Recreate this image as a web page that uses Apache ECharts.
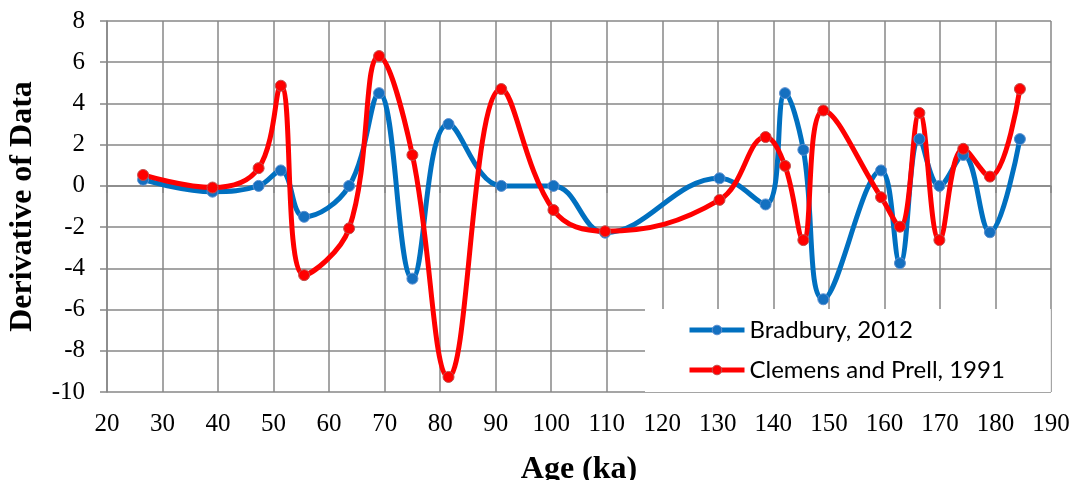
<!DOCTYPE html>
<html>
<head>
<meta charset="utf-8">
<script src="https://cdn.jsdelivr.net/npm/echarts@6/dist/echarts.min.js"></script>
<style>
  html, body { margin: 0; padding: 0; background: #fff; }
  #main { width: 1074px; height: 480px; }
</style>
</head>
<body>
<div id="main"></div>
<script>
// ages (ka) shared by both series
var ages = [26.5, 39.0, 47.3, 51.3, 55.5, 63.6, 69.0, 75.0, 81.5, 91.0, 100.4, 109.7,
  130.3, 138.6, 142.1, 145.4, 149.0, 159.4, 162.8, 166.3, 169.9, 174.2, 179.0, 184.4];
// derivative values
var bradbury = [0.3, -0.28, 0, 0.75, -1.5, 0, 4.5, -4.5, 3.0, 0, 0, -2.27,
  0.37, -0.9, 4.5, 1.75, -5.5, 0.75, -3.75, 2.27, 0, 1.5, -2.25, 2.27];
var clemens = [0.53, -0.08, 0.86, 4.86, -4.33, -2.06, 6.3, 1.5, -9.27, 4.7, -1.17, -2.2,
  -0.68, 2.37, 0.97, -2.63, 3.66, -0.55, -1.98, 3.54, -2.63, 1.8, 0.45, 4.7];
var seriesNames = ['Bradbury, 2012', 'Clemens and Prell, 1991'];

function pairs(xs, ys) {
  var out = [];
  xs.forEach(function (x, i) { out.push([x, ys[i]]); });
  return out;
}

var chart = echarts.init(document.getElementById('main'));
var gridColor = '#878787';

var option = {
  backgroundColor: '#fff',
  animation: false,
  grid: { left: 107, right: 23, top: 21, bottom: 88, outerBoundsMode: 'none', containLabel: false },
  legend: {
    orient: 'vertical',
    left: 645,
    top: 309,
    backgroundColor: '#fff',
    padding: [7, 46, 8, 42],
    itemGap: 12,
    itemWidth: 55,
    itemHeight: 12,
    itemStyle: { borderWidth: 1 },
    lineStyle: { width: 5 },
    textStyle: { fontFamily: 'Lato', fontSize: 24, color: '#000', lineHeight: 28 },
    data: seriesNames
  },
  xAxis: {
    type: 'value',
    min: 20, max: 190, interval: 10,
    name: 'Age (ka)',
    nameLocation: 'middle',
    nameGap: 62,
    nameTextStyle: { fontFamily: 'Liberation Serif', fontWeight: 'bold', fontSize: 32, color: '#000' },
    axisLine: { lineStyle: { color: gridColor, width: 1.5 } },
    axisTick: { show: true, length: 7, lineStyle: { color: gridColor, width: 1.5 } },
    axisLabel: { fontFamily: 'Liberation Serif', fontSize: 25, color: '#000', margin: 20 },
    splitLine: { show: true, lineStyle: { color: gridColor, width: 1.5 } }
  },
  yAxis: {
    type: 'value',
    min: -10, max: 8, interval: 2,
    name: 'Derivative of Data',
    nameLocation: 'middle',
    nameGap: 68,
    nameTextStyle: { fontFamily: 'Liberation Serif', fontWeight: 'bold', fontSize: 32, color: '#000' },
    axisLine: { show: true, lineStyle: { color: gridColor, width: 1.5 } },
    axisTick: { show: true, length: 7, lineStyle: { color: gridColor, width: 1.5 } },
    axisLabel: { fontFamily: 'Liberation Serif', fontSize: 25, color: '#000', margin: 22 },
    splitLine: { show: true, lineStyle: { color: gridColor, width: 1.5 } }
  },
  series: [
    {
      name: seriesNames[0],
      type: 'line',
      smooth: 0.4,
      data: pairs(ages, bradbury),
      symbol: 'circle',
      symbolSize: 11,
      lineStyle: { color: '#0070C0', width: 5 },
      itemStyle: { color: '#1570C0', borderColor: '#5b8fd0', borderWidth: 1 }
    },
    {
      name: seriesNames[1],
      type: 'line',
      smooth: 0.4,
      data: pairs(ages, clemens),
      symbol: 'circle',
      symbolSize: 11,
      lineStyle: { color: '#FF0000', width: 5 },
      itemStyle: { color: '#FF0000', borderColor: '#c0504d', borderWidth: 1 }
    }
  ]
};

chart.setOption(option);
</script>
</body>
</html>
